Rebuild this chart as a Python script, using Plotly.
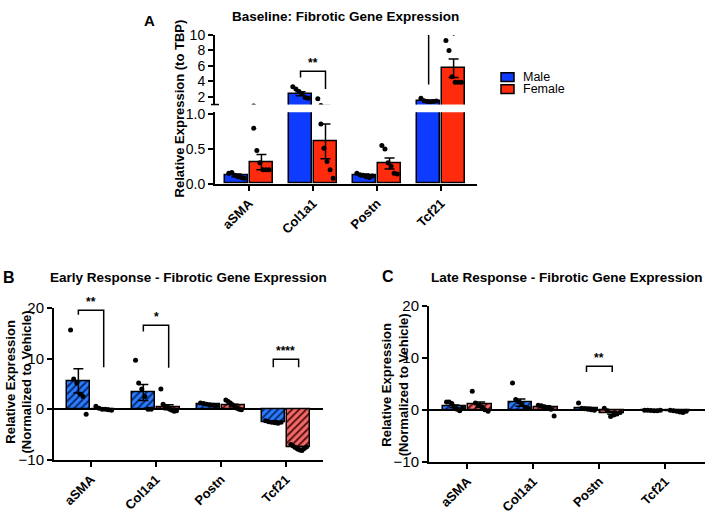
import plotly.graph_objects as go

W, H = 709, 515
def px(x): return x / W
def py(y): return 1 - y / H

genes = ["aSMA", "Col1a1", "Postn", "Tcf21"]
sexes = ["Male", "Female"]

# ---- Panel A: Baseline (relative to TBP)
A_male_mean = [0.12, 2.40, 0.12, 1.45]
A_male_sem = [0.02, 0.25, 0.02, 0.08]
A_female_mean = [0.31, 0.61, 0.29, 5.70]
A_female_sem = [0.11, 0.25, 0.08, 1.20]
A_male_pts = [[0.15, 0.16, 0.12, 0.10, 0.09, 0.08],
              [3.3, 3.0, 2.7, 2.4, 1.9, 1.8],
              [0.15, 0.13, 0.12, 0.10, 0.09, 0.11],
              [1.8, 1.5, 1.4, 1.35, 1.4, 1.45]]
A_female_pts = [[0.80, 0.48, 0.30, 0.20, 0.20, 0.20],
                [1.75, 0.86, 0.51, 0.32, 0.20, 0.08],
                [0.55, 0.50, 0.30, 0.25, 0.15, 0.14],
                [9.3, 8.0, 4.6, 3.9, 3.9, 3.9]]

# ---- Panel B: Early response (normalized to vehicle)
B_male_mean = [5.6, 3.3, 0.9, -2.5]
B_male_sem = [2.4, 1.6, 0.1, 0.2]
B_female_mean = [0.1, 0.4, 0.8, -7.6]
B_female_sem = [0.1, 0.5, 0.2, 0.2]
B_male_pts = [[15.7, 6.0, 5.2, 3.0, 2.5, -1.0],
              [9.7, 5.2, 4.0, 2.5, 0.0, 0.0],
              [1.2, 1.1, 1.0, 0.9, 0.8, 0.6],
              [-2.3, -2.5, -2.6, -2.7, -2.8, -2.6]]
B_female_pts = [[0.6, 0.2, 0.0, 0.0, -0.1, -0.2],
                [4.0, 1.0, 0.6, 0.3, 0.0, -0.2, -0.4, -0.3],
                [1.8, 1.5, 1.2, 0.9, 0.5, 0.2, 0.0, -0.1],
                [-7.0, -7.3, -7.6, -7.9, -8.1, -8.2, -7.8, -7.5]]

# ---- Panel C: Late response (normalized to vehicle)
C_male_mean = [0.7, 1.4, 0.3, -0.15]
C_male_sem = [0.25, 0.7, 0.2, 0.05]
C_female_mean = [1.0, 0.5, -0.6, -0.3]
C_female_sem = [0.5, 0.3, 0.25, 0.05]
C_male_pts = [[1.5, 1.5, 1.2, 0.6, 0.1, -0.2, 0.3],
              [5.2, 2.0, 1.5, 1.0, 0.5, 0.3],
              [1.3, 0.3, 0.2, 0.1, 0.0, -0.1],
              [-0.1, -0.1, -0.15, -0.2, -0.2, -0.1]]
C_female_pts = [[3.6, 1.3, 0.9, 0.6, 0.0, -0.3],
                [0.9, 0.8, 0.6, 0.3, 0.1, -1.2],
                [0.3, -0.2, -1.3, -1.0, -0.8, -0.5],
                [-0.1, -0.2, -0.3, -0.4, -0.5, -0.3]]

# significance: (gene index, y_top, y_left, y_right, label)
A_sig = [(1, 5.3, 4.5, 3.0, "**"), (3, 10.1, 3.6, 9.9, "*")]
B_sig = [(0, 19.6, 18.7, 8.3, "**"), (1, 16.6, 15.4, 8.2, "*"), (3, 9.9, 8.3, 8.3, "****")]
C_sig = [(2, 8.4, 7.3, 7.3, "**")]

BLUE = "#0d3bff"
RED = "#ff2b0d"
HBLUE = "#2a7dff"
HRED = "#f26b6b"
FONT = "Arial, Liberation Sans, Helvetica, sans-serif"

OFF = 0.195
BW = 0.36

fig = go.Figure()

def add_group(xa, ya, means, sems, pts, side, color, pattern=None):
    xs = [i + side * OFF for i in range(len(genes))]
    marker = dict(color=color, line=dict(color="black", width=1.5))
    if pattern:
        marker["pattern"] = pattern
    fig.add_trace(go.Bar(x=xs, y=means, width=BW, marker=marker,
                         error_y=dict(type="data", array=sems, color="black",
                                      thickness=1.5, width=5),
                         xaxis=xa, yaxis=ya, showlegend=False))
    ptx, pty = [], []
    for i, p in enumerate(pts):
        n = len(p)
        for j, v in enumerate(p):
            dx = (-0.12 + 0.24 * j / (n - 1)) if n > 1 else 0
            ptx.append(xs[i] + dx)
            pty.append(v)
    fig.add_trace(go.Scatter(x=ptx, y=pty, mode="markers",
                             marker=dict(color="black", size=5),
                             xaxis=xa, yaxis=ya, showlegend=False))

def add_sig(xa, ya, sigs, yref):
    for gi, top, yl, yr, lab in sigs:
        x0, x1 = gi - OFF, gi + OFF
        fig.add_trace(go.Scatter(x=[x0, x0, x1, x1], y=[yl, top, top, yr],
                                 mode="lines", line=dict(color="black", width=1.5),
                                 xaxis=xa, yaxis=ya, cliponaxis=False,
                                 showlegend=False))
        fig.add_annotation(x=gi, y=top, xref=xa, yref=yref, text="<b>" + lab + "</b>",
                           showarrow=False, yanchor="bottom", yshift=-1,
                           font=dict(size=12, color="black", family=FONT))

# Panel A: both segments of the broken axis
for ya, xa in (("y", "x"), ("y2", "x2")):
    add_group(xa, ya, A_male_mean, A_male_sem, A_male_pts, -1, BLUE)
    add_group(xa, ya, A_female_mean, A_female_sem, A_female_pts, 1, RED)
add_sig("x2", "y2", A_sig, "y2")

# Panel B
pb = dict(shape="/", fgcolor="#0a2a70", bgcolor=HBLUE, size=5, solidity=0.4, fillmode="replace")
pr = dict(shape="/", fgcolor="#5a1010", bgcolor=HRED, size=5, solidity=0.4, fillmode="replace")
add_group("x3", "y3", B_male_mean, B_male_sem, B_male_pts, -1, HBLUE, pb)
add_group("x3", "y3", B_female_mean, B_female_sem, B_female_pts, 1, HRED, pr)
add_sig("x3", "y3", B_sig, "y3")

# Panel C
add_group("x4", "y4", C_male_mean, C_male_sem, C_male_pts, -1, HBLUE, pb)
add_group("x4", "y4", C_female_mean, C_female_sem, C_female_pts, 1, HRED, pr)
add_sig("x4", "y4", C_sig, "y4")

axcommon = dict(showline=True, linecolor="black", linewidth=2, ticks="outside",
                ticklen=5, tickwidth=1.5, tickcolor="black", showgrid=False,
                zeroline=False, fixedrange=True)
xtick = dict(tickvals=list(range(len(genes))), ticktext=genes, tickangle=-45,
             tickfont=dict(size=13, family=FONT, color="black", weight="bold"))

fig.update_layout(
    width=W, height=H, margin=dict(l=0, r=0, t=0, b=0),
    paper_bgcolor="white", plot_bgcolor="white", bargap=0, showlegend=False,
    xaxis=dict(domain=[px(215), px(477)], range=[-0.53, 3.56], anchor="y", **axcommon, **xtick),
    yaxis=dict(domain=[py(181), py(107)], range=[0, 1.03], anchor="x",
               tickvals=[0, 0.5, 1.0], ticktext=["0.0", "0.5", "1.0"],
               tickfont=dict(size=14, family=FONT, color="black"), **axcommon),
    xaxis2=dict(domain=[px(215), px(477)], range=[-0.53, 3.56], anchor="y2", visible=False,
                matches="x"),
    yaxis2=dict(domain=[py(99), py(27)], range=[1, 10], anchor="x2",
                tickvals=[2, 4, 6, 8, 10],
                tickfont=dict(size=14, family=FONT, color="black"), **axcommon),
    xaxis3=dict(domain=[px(54), px(323)], range=[-0.57, 3.57], anchor="y3", **axcommon, **xtick),
    yaxis3=dict(domain=[py(467), py(310)], range=[-10, 20], anchor="x3",
                tickvals=[-10, 0, 10, 20],
                tickfont=dict(size=15, family=FONT, color="black"),
                **{**axcommon, "zeroline": True}, zerolinecolor="black", zerolinewidth=2),
    xaxis4=dict(domain=[px(429), px(705)], range=[-0.58, 3.6], anchor="y4", **axcommon, **xtick),
    yaxis4=dict(domain=[py(469), py(308)], range=[-10, 20], anchor="x4",
                tickvals=[-10, 0, 10, 20],
                tickfont=dict(size=15, family=FONT, color="black"),
                **{**axcommon, "zeroline": True}, zerolinecolor="black", zerolinewidth=2),
)

# break mark on panel A axis
fig.add_shape(type="line", xref="paper", yref="paper", x0=px(211), x1=px(219),
              y0=py(99), y1=py(99), line=dict(color="black", width=1.5))

def txt(x, y, s, size, bold=True, angle=0, xanchor="center", yanchor="middle"):
    fig.add_annotation(x=px(x), y=py(y), xref="paper", yref="paper",
                       text=("<b>%s</b>" % s) if bold else s, showarrow=False,
                       textangle=angle, xanchor=xanchor, yanchor=yanchor,
                       font=dict(size=size, family=FONT, color="black"))

# panel letters and titles
txt(149, 12, "A", 15)
txt(345, 8, "Baseline: Fibrotic Gene Expression", 13.5)
txt(179, 103, "Relative Expression (to TBP)", 13, angle=-90)
txt(9, 278, "B", 16)
txt(189, 278, "Early Response - Fibrotic Gene Expression", 13.5)
txt(19, 387, "Relative Expression<br>(Normalized to Vehicle)", 13, angle=-90)
txt(388, 277, "C", 16)
txt(567, 278, "Late Response - Fibrotic Gene Expression", 13.5)
txt(395, 390, "Relative Expression<br>(Normalized to Vehicle)", 13, angle=-90)

# legend (panel A)
for k, (name, col) in enumerate(zip(sexes, [BLUE, RED])):
    yc = 70.5 + 12.5 * k
    fig.add_shape(type="rect", xref="paper", yref="paper", x0=px(501), x1=px(514),
                  y0=py(yc + 4.5), y1=py(yc - 4.5), fillcolor=col,
                  line=dict(color="black", width=1.5))
    txt(521, yc, name, 12.5, bold=False, xanchor="left")

fig.write_html("out.html", config={"displayModeBar": False},
               post_script="document.body.style.margin='0';"
                           "document.documentElement.style.overflow='hidden';")
